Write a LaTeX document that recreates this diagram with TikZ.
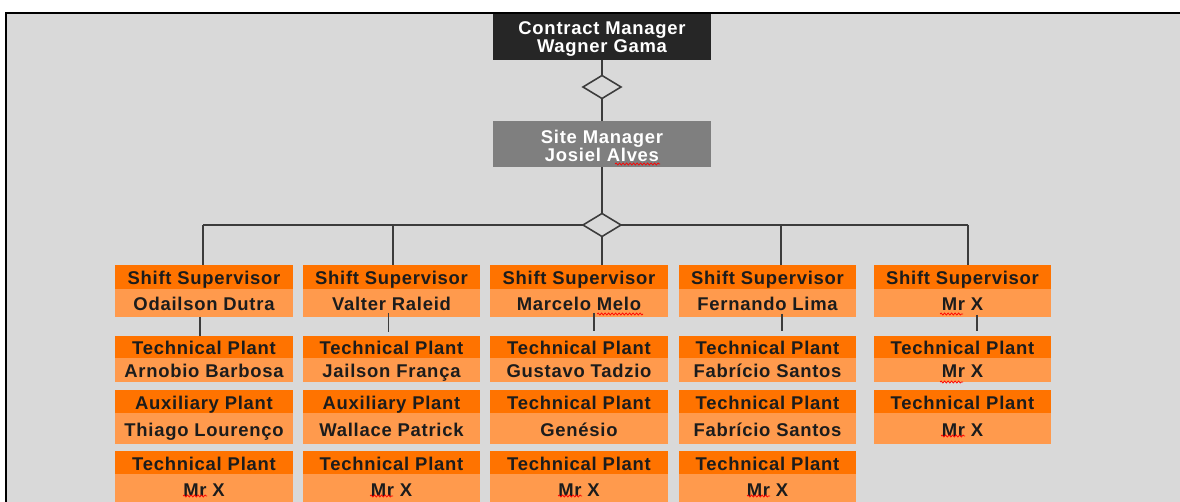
\documentclass[tikz,border=0pt]{standalone}
\usepackage{fontspec}
\setmainfont{Liberation Sans}[LetterSpace=4]
\usetikzlibrary{positioning}
\usetikzlibrary{shapes.geometric}
\usetikzlibrary{calc}
\usetikzlibrary{decorations.pathmorphing}

\definecolor{panel}{HTML}{D9D9D9}
\definecolor{boss}{HTML}{262626}
\definecolor{site}{HTML}{7F7F7F}
\definecolor{orghead}{HTML}{FF7300}
\definecolor{orgname}{HTML}{FF9A4D}
\definecolor{wire}{HTML}{3C3C3C}
\definecolor{ink}{HTML}{1C1C1C}

% red wavy mark under a word, x from #1 to #2 at height #3
\newcommand{\spell}[3]{\draw[spell] (#1,#3) -- (#2,#3);}

\begin{document}
\begin{tikzpicture}[x=0.02cm,y=-0.02cm,
  every node/.style={inner sep=0pt,outer sep=0pt,font=\fontsize{10.5}{10.4}\selectfont\bfseries},
  top/.style={text=white,align=center,minimum width=4.36cm,minimum height=0.92cm},
  hdr/.style={fill=orghead,text=ink,minimum width=3.56cm,minimum height=#1,text height=8.8pt,text depth=0pt},
  hdr/.default=0.44cm,
  nm/.style={fill=orgname,text=ink,minimum width=3.56cm,minimum height=#1,text height=8.8pt,text depth=0pt},
  nm/.default=0.48cm,
  knot/.style={diamond,draw=wire,fill=panel,line width=0.9pt,minimum width=0.76cm,minimum height=0.46cm},
  wire/.style={draw=wire,line width=0.9pt},
  spell/.style={red,line width=0.4pt,decorate,decoration={snake,segment length=0.07cm,amplitude=0.02cm}}]
\useasboundingbox (0,0) rectangle (1180,502);
\clip (0,0) rectangle (1180,502);
\draw[line width=1pt,fill=panel] (6,13) rectangle (1200,520);

% managers
\node[top,fill=boss] (cm) at (602,37) {\rule{0pt}{10pt}Contract Manager\\Wagner Gama};
\node[knot] (d1) at (602,87) {};
\node[top,fill=site] (sm) at (602,144.5) {\rule{0pt}{9.5pt}Site Manager\\Josiel Alves};
\node[knot] (d2) at (602,225) {};

\coordinate (b1) at (203,225);
\coordinate (b2) at (393,225);
\coordinate (b4) at (781,225);
\coordinate (b5) at (968,225);

% shift supervisors
\node[hdr=0.48cm] (s1h) at (204,277) {Shift Supervisor};
\node[nm=0.56cm,below=0pt of s1h] (s1) {Odailson Dutra};
\node[hdr=0.48cm] (s2h) at (391.5,277) {Shift Supervisor};
\node[nm=0.56cm,below=0pt of s2h] (s2) {Valter Raleid};
\node[hdr=0.48cm] (s3h) at (579,277) {Shift Supervisor};
\node[nm=0.56cm,below=0pt of s3h] (s3) {Marcelo Melo};
\node[hdr=0.48cm] (s4h) at (767.5,277) {Shift Supervisor};
\node[nm=0.56cm,below=0pt of s4h] (s4) {Fernando Lima};
\node[hdr=0.48cm] (s5h) at (962.5,277) {Shift Supervisor};
\node[nm=0.56cm,below=0pt of s5h] (s5) {Mr X};

% plants, first row
\node[hdr] (t11h) at (204,347) {Technical Plant};
\node[nm,below=0pt of t11h] (t11) {Arnobio Barbosa};
\node[hdr] (t21h) at (391.5,347) {Technical Plant};
\node[nm,below=0pt of t21h] (t21) {Jailson França};
\node[hdr] (t31h) at (579,347) {Technical Plant};
\node[nm,below=0pt of t31h] (t31) {Gustavo Tadzio};
\node[hdr] (t41h) at (767.5,347) {Technical Plant};
\node[nm,below=0pt of t41h] (t41) {Fabrício Santos};
\node[hdr] (t51h) at (962.5,347) {Technical Plant};
\node[nm,below=0pt of t51h] (t51) {Mr X};

% second row
\node[hdr=0.46cm] (t12h) at (204,401.5) {Auxiliary Plant};
\node[nm=0.62cm,below=0pt of t12h] (t12) {Thiago Lourenço};
\node[hdr=0.46cm] (t22h) at (391.5,401.5) {Auxiliary Plant};
\node[nm=0.62cm,below=0pt of t22h] (t22) {Wallace Patrick};
\node[hdr=0.46cm] (t32h) at (579,401.5) {Technical Plant};
\node[nm=0.62cm,below=0pt of t32h] (t32) {Genésio};
\node[hdr=0.46cm] (t42h) at (767.5,401.5) {Technical Plant};
\node[nm=0.62cm,below=0pt of t42h] (t42) {Fabrício Santos};
\node[hdr=0.46cm] (t52h) at (962.5,401.5) {Technical Plant};
\node[nm=0.62cm,below=0pt of t52h] (t52) {Mr X};

% third row
\node[hdr=0.46cm] (t13h) at (204,462.5) {Technical Plant};
\node[nm=0.6cm,below=0pt of t13h] (t13) {Mr X};
\node[hdr=0.46cm] (t23h) at (391.5,462.5) {Technical Plant};
\node[nm=0.6cm,below=0pt of t23h] (t23) {Mr X};
\node[hdr=0.46cm] (t33h) at (579,462.5) {Technical Plant};
\node[nm=0.6cm,below=0pt of t33h] (t33) {Mr X};
\node[hdr=0.46cm] (t43h) at (767.5,462.5) {Technical Plant};
\node[nm=0.6cm,below=0pt of t43h] (t43) {Mr X};

% links
\draw[wire] (cm) -- (d1) -- (sm) -- (d2);
\draw[wire] (b1) -- (d2) -- (b5);
\draw[wire] (b1) -- (b1 |- s1h.north);
\draw[wire] (b2) -- (b2 |- s2h.north);
\draw[wire] (d2) -- (d2 |- s3h.north);
\draw[wire] (b4) -- (b4 |- s4h.north);
\draw[wire] (b5) -- (b5 |- s5h.north);

\draw[wire] ($(s1.south)+(-4,0)$) -- ($(t11h.north)+(-4,0)$);
\draw[wire] ($(s2.south)+(-3,-4)$) -- ($(t21h.north)+(-3,-4)$);
\draw[wire] ($(s3.south)+(15,-4)$) -- ($(t31h.north)+(15,-5)$);
\draw[wire] ($(s4.south)+(14.5,-3)$) -- ($(t41h.north)+(14.5,-5)$);
\draw[wire] ($(s5.south)+(14.5,-2)$) -- ($(t51h.north)+(14.5,-5)$);

% spelling marks
\spell{615}{660}{164}
\spell{597}{643}{314}
\spell{940}{963}{314}
\spell{940}{963}{382}
\spell{941}{965}{436}
\spell{183}{207}{496}
\spell{370}{393}{496}
\spell{558}{582}{496}
\spell{747}{770}{496}
\end{tikzpicture}
\end{document}
